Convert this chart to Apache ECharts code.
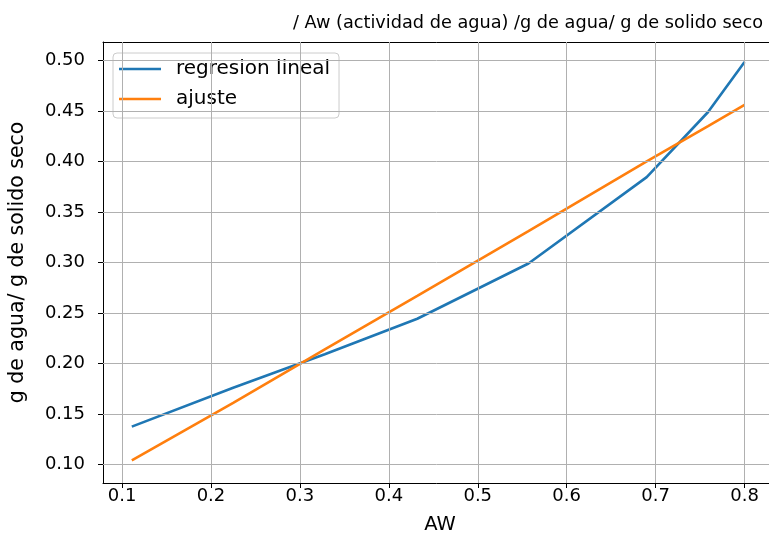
<!DOCTYPE html>
<html>
<head>
<meta charset="utf-8">
<script src="https://cdn.jsdelivr.net/npm/echarts@6/dist/echarts.min.js"></script>
<style>
  html, body { margin: 0; padding: 0; background: #ffffff; }
  #chart { width: 769px; height: 542px; }
</style>
</head>
<body>
<div id="chart"></div>
<script>
// Water activity (x) for each measured point
const aw = [0.111, 0.225, 0.328, 0.432, 0.557, 0.690, 0.759, 0.800];
// Moisture content, g water / g dry solid
const regresionLineal = [0.1375, 0.176, 0.2092, 0.2443, 0.299, 0.3845, 0.449, 0.4985];
// Straight-line fit through the same points
const ajuste = [0.104, 0.161, 0.214, 0.267, 0.331, 0.400, 0.435, 0.456];
// Tick values
const xTicks = [0.1, 0.2, 0.3, 0.4, 0.5, 0.6, 0.7, 0.8];
const yTicks = [0.10, 0.15, 0.20, 0.25, 0.30, 0.35, 0.40, 0.45, 0.50];

const FONT = 'DejaVu Sans';
const pairs = (xs, ys) => xs.map((x, i) => [x, ys[i]]);

const gridLineStyle = { color: '#b0b0b0', width: 1, type: 'solid' };

const chart = echarts.init(document.getElementById('chart'), null, { renderer: 'canvas' });

chart.setOption({
  animation: false,
  backgroundColor: '#ffffff',
  title: {
    text: '/ Aw (actividad de agua) /g de agua/ g de solido seco',
    left: 288,
    top: 9,
    textStyle: { fontFamily: FONT, fontSize: 17.7, fontWeight: 'normal', color: '#000000' }
  },
  grid: { left: 103, top: 42, right: -8, bottom: 59, containLabel: false, outerBoundsMode: 'none' },
  legend: {
    orient: 'vertical',
    left: 113,
    top: 53,
    padding: [4, 9, 7, 6],
    icon: 'rect',
    itemWidth: 42,
    itemHeight: 2.5,
    itemGap: 6,
    backgroundColor: 'rgba(255,255,255,0.8)',
    borderColor: '#cccccc',
    borderWidth: 1,
    borderRadius: 4,
    textStyle: { fontFamily: FONT, fontSize: 20, lineHeight: 24, color: '#000000', padding: [0, 0, 0, 10] },
    data: ['regresion lineal', 'ajuste']
  },
  xAxis: [{
    type: 'value',
    min: 0.0786,
    max: 0.8365,
    name: 'AW',
    nameLocation: 'middle',
    nameGap: 32,
    nameTextStyle: { fontFamily: FONT, fontSize: 19.5, color: '#000000' },
    axisLine: { show: true, onZero: false, lineStyle: { color: '#000000', width: 1 } },
    axisTick: { show: true, inside: false, length: 5, customValues: xTicks, lineStyle: { color: '#000000' } },
    axisLabel: { customValues: xTicks, margin: 4, fontFamily: FONT, fontSize: 18, color: '#000000',
                 formatter: v => v.toFixed(1) },
    splitLine: { show: false }
  }, {
    type: 'value',
    position: 'top',
    min: 0.0786,
    max: 0.8365,
    axisLine: { show: true, onZero: false, lineStyle: { color: '#000000', width: 1 } },
    axisTick: { show: false },
    axisLabel: { show: false },
    splitLine: { show: false }
  }],
  yAxis: {
    type: 'value',
    min: 0.0817,
    max: 0.5183,
    name: 'g de agua/ g de solido seco',
    nameLocation: 'middle',
    nameGap: 75,
    nameRotate: 90,
    nameTextStyle: { fontFamily: FONT, fontSize: 20.5, color: '#000000' },
    axisLine: { show: true, onZero: false, lineStyle: { color: '#000000', width: 1 } },
    axisTick: { show: true, inside: false, length: 5, customValues: yTicks, lineStyle: { color: '#000000' } },
    axisLabel: { customValues: yTicks, margin: 18, fontFamily: FONT, fontSize: 18, color: '#000000',
                 formatter: v => v.toFixed(2) },
    splitLine: { show: false }
  },
  series: [
    {
      // carries the grid lines only
      name: 'grid',
      type: 'line',
      data: pairs(aw, regresionLineal),
      symbol: 'none',
      silent: true,
      z: 0,
      lineStyle: { opacity: 0 },
      tooltip: { show: false },
      markLine: {
        silent: true,
        symbol: 'none',
        label: { show: false },
        lineStyle: gridLineStyle,
        data: xTicks.map(v => ({ xAxis: v })).concat(yTicks.map(v => ({ yAxis: v })))
      }
    },
    {
      name: 'regresion lineal',
      type: 'line',
      data: pairs(aw, regresionLineal),
      symbol: 'none',
      z: 3,
      lineStyle: { color: '#1f77b4', width: 2.6 },
      itemStyle: { color: '#1f77b4' }
    },
    {
      name: 'ajuste',
      type: 'line',
      data: pairs(aw, ajuste),
      symbol: 'none',
      z: 4,
      lineStyle: { color: '#ff7f0e', width: 2.6 },
      itemStyle: { color: '#ff7f0e' }
    }
  ]
});
</script>
</body>
</html>
